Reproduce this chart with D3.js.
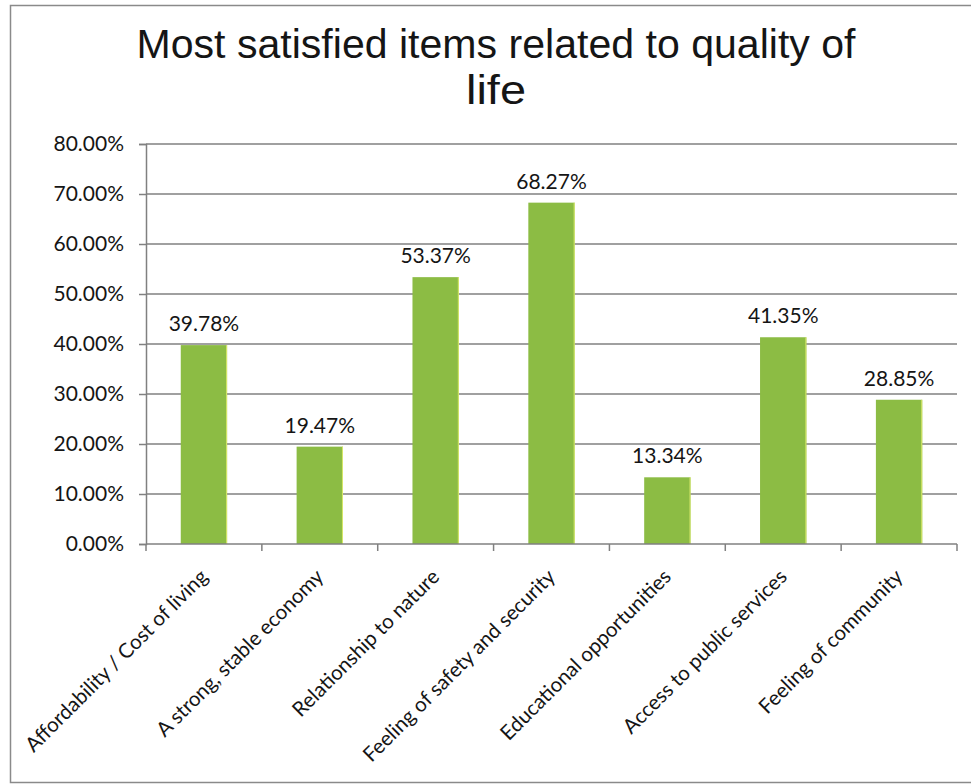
<!DOCTYPE html>
<html>
<head>
<meta charset="utf-8">
<script src="https://cdn.jsdelivr.net/npm/d3@7"></script>
<style>
  html, body { margin: 0; padding: 0; background: #fff; }
  svg { display: block; }
</style>
</head>
<body>
<svg id="chart" width="971" height="784"></svg>
<script>
// Share of respondents most satisfied with each quality-of-life item
const categories = [
  "Affordability / Cost of living",
  "A strong, stable economy",
  "Relationship to nature",
  "Feeling of safety and security",
  "Educational opportunities",
  "Access to public services",
  "Feeling of community"
];
const values = [0.3978, 0.1947, 0.5337, 0.6827, 0.1334, 0.4135, 0.2885];
const yTicks = [0, 0.1, 0.2, 0.3, 0.4, 0.5, 0.6, 0.7, 0.8];
const titleLines = ["Most satisfied items related to quality of", "life"];

const svg = d3.select("#chart");
const W = 971, H = 784;
const plot = { left: 146, right: 957, top: 144, bottom: 544 };
const labelFont = "Lato, 'Open Sans', sans-serif";
const textColor = "#151515";

// Outer chart frame
svg.append("rect")
  .attr("x", 10.5).attr("y", 5.5)
  .attr("width", W + 10).attr("height", 777)
  .attr("fill", "#fff")
  .attr("stroke", "#8a8a8a").attr("stroke-width", 1.5);

// Title, two centred lines
const title = svg.append("g")
  .attr("font-family", "'Liberation Sans', Arial, sans-serif")
  .attr("font-size", 40)
  .attr("fill", textColor)
  .attr("text-anchor", "middle");
title.append("text").attr("x", 496).attr("y", 58)
  .attr("textLength", 719).attr("lengthAdjust", "spacingAndGlyphs")
  .text(titleLines[0]);
title.append("text").attr("x", 496).attr("y", 104)
  .attr("textLength", 60).attr("lengthAdjust", "spacingAndGlyphs")
  .text(titleLines[1]);

const x = d3.scaleBand()
  .domain(categories)
  .range([plot.left, plot.right])
  .paddingInner(0.6)
  .paddingOuter(0.3);

const y = d3.scaleLinear()
  .domain([0, 0.8])
  .range([plot.bottom, plot.top]);

const gridColor = "#808080";

// Horizontal gridlines
svg.append("g")
  .selectAll("line")
  .data(yTicks.filter(d => d > 0))
  .join("line")
  .attr("x1", plot.left).attr("x2", plot.right)
  .attr("y1", d => y(d)).attr("y2", d => y(d))
  .attr("stroke", gridColor).attr("stroke-width", 1.5);

// Y axis
const yAxis = svg.append("g")
  .attr("transform", `translate(${plot.left},0)`)
  .call(d3.axisLeft(y).tickValues(yTicks).tickSize(7).tickPadding(15)
    .tickFormat(d3.format(".2%")));
yAxis.select(".domain").attr("stroke", gridColor).attr("stroke-width", 1.5);
yAxis.selectAll(".tick line").attr("stroke", gridColor).attr("stroke-width", 1.5);
yAxis.selectAll(".tick text")
  .attr("font-family", labelFont).attr("font-size", 21)
  .attr("fill", textColor);

// Bars
svg.append("g")
  .selectAll("rect")
  .data(categories)
  .join("rect")
  .attr("x", d => x(d))
  .attr("width", x.bandwidth())
  .attr("y", (d, i) => y(values[i]))
  .attr("height", (d, i) => y(0) - y(values[i]))
  .attr("fill", "#8cbc44");

// Light edge on the right side of each bar
svg.append("g")
  .selectAll("line")
  .data(categories)
  .join("line")
  .attr("x1", d => x(d) + x.bandwidth() - 0.5)
  .attr("x2", d => x(d) + x.bandwidth() - 0.5)
  .attr("y1", (d, i) => y(values[i]))
  .attr("y2", y(0))
  .attr("stroke", "#d8e86a").attr("stroke-width", 1);

// Value labels
svg.append("g")
  .selectAll("text")
  .data(categories)
  .join("text")
  .attr("x", d => x(d) + x.bandwidth() / 2)
  .attr("y", (d, i) => y(values[i]) - 14)
  .attr("text-anchor", "middle")
  .attr("font-family", labelFont).attr("font-size", 21)
  .attr("fill", textColor)
  .text((d, i) => d3.format(".2%")(values[i]));

// X axis with ticks between categories
const step = x.step();
const boundaries = d3.range(categories.length + 1).map(i => plot.left + i * step);
svg.append("line")
  .attr("x1", plot.left).attr("x2", plot.right)
  .attr("y1", plot.bottom).attr("y2", plot.bottom)
  .attr("stroke", gridColor).attr("stroke-width", 1.5);
svg.append("g")
  .selectAll("line")
  .data(boundaries)
  .join("line")
  .attr("x1", d => d).attr("x2", d => d)
  .attr("y1", plot.bottom).attr("y2", plot.bottom + 7)
  .attr("stroke", gridColor).attr("stroke-width", 1.5);

// Rotated category labels
svg.append("g")
  .selectAll("text")
  .data(categories)
  .join("text")
  .attr("transform", d => `translate(${x(d) + x.bandwidth() / 2 + 5},${plot.bottom + 34}) rotate(-45)`)
  .attr("text-anchor", "end")
  .attr("font-family", labelFont).attr("font-size", 20.5)
  .attr("fill", textColor)
  .text(d => d);
</script>
</body>
</html>
